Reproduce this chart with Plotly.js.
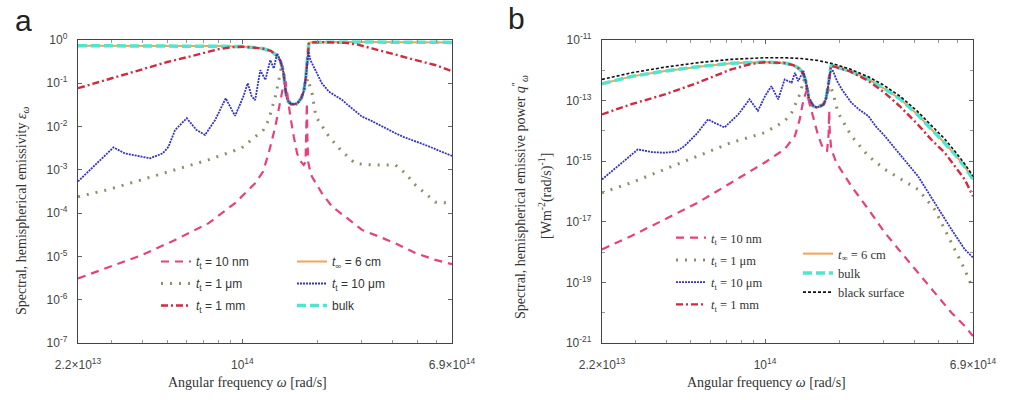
<!DOCTYPE html>
<html>
<head>
<meta charset="utf-8">
<script src="https://cdn.plot.ly/plotly-3.0.1.min.js"></script>
<style>html,body{margin:0;padding:0;background:#fff}#chart{width:1014px;height:400px}</style>
</head>
<body>
<div id="chart"></div>
<script>
// ---------------- Panel a : spectral hemispherical emissivity ----------------
const a_bulk_w = [2.2e13,3e13,5e13,8e13,1e14,1.2e14,1.3e14,1.37e14,1.42e14,1.46e14,1.48e14,1.5e14,1.53e14,1.57e14,1.62e14,1.67e14,1.72e14,1.76e14,1.79e14,1.81e14,1.825e14,1.835e14,1.845e14,1.86e14,2.2e14,3e14,4e14,5e14,6.9e14];
const a_bulk_e = [0.74,0.74,0.74,0.73,0.71,0.64,0.56,0.44,0.33,0.18,0.09,0.05,0.037,0.033,0.033,0.036,0.045,0.065,0.12,0.25,0.45,0.65,0.82,0.88,0.9,0.9,0.89,0.89,0.88];
const a_6cm_w = [2.2e13,3e13,5e13,8e13,1e14,1.2e14,1.3e14,1.37e14,1.42e14,1.46e14,1.48e14,1.5e14,1.53e14,1.57e14,1.62e14,1.67e14,1.72e14,1.76e14,1.79e14,1.81e14,1.825e14,1.835e14,1.845e14,1.86e14,2.2e14,3e14,4e14,5e14,6.9e14];
const a_6cm_e = [0.74,0.74,0.74,0.73,0.71,0.64,0.56,0.44,0.33,0.18,0.09,0.05,0.037,0.033,0.033,0.036,0.045,0.065,0.12,0.25,0.45,0.65,0.82,0.88,0.9,0.9,0.89,0.89,0.88];
const a_1mm_w = [2.2e13,3e13,4e13,5e13,6e13,7e13,8e13,9e13,1e14,1.2e14,1.3e14,1.37e14,1.42e14,1.46e14,1.48e14,1.5e14,1.53e14,1.57e14,1.62e14,1.67e14,1.72e14,1.76e14,1.79e14,1.81e14,1.825e14,1.835e14,1.845e14,1.86e14,2.2e14,2.6e14,2.9e14,3.3e14,4.1e14,4.8e14,5.9e14,6.9e14];
const a_1mm_e = [0.077,0.13,0.22,0.31,0.40,0.51,0.61,0.68,0.70,0.64,0.56,0.44,0.33,0.18,0.09,0.05,0.037,0.033,0.033,0.036,0.045,0.065,0.12,0.25,0.45,0.65,0.82,0.88,0.89,0.86,0.78,0.64,0.45,0.36,0.265,0.19];
const a_10um_w = [2.2e13,2.6e13,3.05e13,3.39e13,4.27e13,4.8e13,5.06e13,5.38e13,5.99e13,6.56e13,7.09e13,7.78e13,8.58e13,9.35e13,1.009e14,1.051e14,1.09e14,1.125e14,1.18e14,1.236e14,1.294e14,1.336e14,1.377e14,1.42e14,1.46e14,1.48e14,1.5e14,1.53e14,1.57e14,1.62e14,1.67e14,1.72e14,1.76e14,1.79e14,1.81e14,1.825e14,1.84e14,1.87e14,1.96e14,2.08e14,2.22e14,2.3e14,2.4e14,2.51e14,2.62e14,2.75e14,2.88e14,3.01e14,3.25e14,3.51e14,3.8e14,4.1e14,4.4e14,4.77e14,5.2e14,5.57e14,6.1e14,6.7e14,6.9e14];
const a_10um_e = [5.4e-4,1.4e-3,3.3e-3,2.4e-3,1.85e-3,2.4e-3,3.4e-3,8.3e-3,0.0156,8.3e-3,6.4e-3,0.0141,0.045,0.0176,0.049,0.1,0.05,0.041,0.2,0.12,0.345,0.22,0.49,0.33,0.18,0.09,0.05,0.037,0.033,0.033,0.036,0.045,0.065,0.12,0.25,0.42,0.54,0.35,0.2,0.1,0.064,0.056,0.05,0.041,0.033,0.026,0.021,0.017,0.014,0.011,0.0085,0.007,0.0058,0.0049,0.0042,0.0035,0.0028,0.0022,0.0021];
const a_1um_w = [2.2e13,2.91e13,3.95e13,5.38e13,7.31e13,9.94e13,1.213e14,1.274e14,1.355e14,1.4e14,1.44e14,1.47e14,1.5e14,1.55e14,1.62e14,1.7e14,1.76e14,1.8e14,1.83e14,1.86e14,1.9e14,1.97e14,2.22e14,2.47e14,2.83e14,3.3e14,4.1e14,4.49e14,4.92e14,5.92e14,6.59e14,6.9e14];
const a_1um_e = [2.4e-4,3.5e-4,5.9e-4,1e-3,1.7e-3,3.2e-3,8.3e-3,0.0141,0.049,0.12,0.28,0.15,0.06,0.035,0.03,0.04,0.06,0.1,0.13,0.09,0.059,0.017,5.9e-3,2.9e-3,1.4e-3,1.3e-3,1.3e-3,8.3e-4,4.5e-4,1.8e-4,1.7e-4,1.7e-4];
const a_10nm_w = [2.2e13,3.09e13,3.95e13,5.38e13,7.31e13,9.35e13,1.125e14,1.21e14,1.274e14,1.355e14,1.415e14,1.46e14,1.49e14,1.52e14,1.556e14,1.606e14,1.656e14,1.707e14,1.76e14,1.79e14,1.805e14,1.812e14,1.82e14,1.835e14,1.87e14,1.9e14,2.08e14,2.29e14,2.58e14,3.01e14,3.51e14,4.1e14,4.92e14,5.92e14,6.7e14,6.9e14];
const a_10nm_e = [3.1e-6,6.3e-6,1.07e-5,2.4e-5,5.8e-5,1.7e-4,4.9e-4,9.1e-4,2.4e-3,0.01,0.034,0.09,0.11,0.045,0.017,5.9e-3,2.4e-3,1.6e-3,1.3e-3,1.5e-3,6e-3,0.035,6e-3,1.5e-3,9e-4,6.9e-4,2.9e-4,1.4e-4,8.3e-5,4.1e-5,2.9e-5,2.0e-5,1.2e-5,8.3e-6,6.9e-6,6.6e-6];

// ---------------- Panel b : spectral hemispherical emissive power ----------------
const b_black_w = [2.2e13,2.9e13,3.9e13,5.4e13,7.3e13,1.0e14,1.2e14,1.4e14,1.64e14,1.9e14,2.2e14,2.6e14,3.0e14,3.5e14,4.1e14,4.7e14,5.3e14,5.9e14,6.4e14,6.9e14];
const b_black_q = [5.0e-13,8.3e-13,1.25e-12,1.8e-12,2.3e-12,2.6e-12,2.6e-12,2.45e-12,2.1e-12,1.6e-12,1.1e-12,6.2e-13,3.3e-13,1.4e-13,4.6e-14,1.5e-14,5.5e-15,1.9e-15,8e-16,3.2e-16];
const b_bulk_w = [2.2e13,2.9e13,3.9e13,5.4e13,7.3e13,1.0e14,1.2e14,1.3e14,1.37e14,1.42e14,1.46e14,1.48e14,1.5e14,1.53e14,1.57e14,1.62e14,1.67e14,1.72e14,1.76e14,1.79e14,1.81e14,1.825e14,1.835e14,1.845e14,1.86e14,1.9e14,2.2e14,2.6e14,3.0e14,3.5e14,4.1e14,4.7e14,5.3e14,5.9e14,6.4e14,6.9e14];
const b_bulk_q = [3.6e-13,6.3e-13,9.3e-13,1.32e-12,1.7e-12,1.87e-12,1.75e-12,1.5e-12,1.15e-12,8.5e-13,4.5e-13,2.3e-13,1.3e-13,9e-14,6.5e-14,6e-14,6.5e-14,7.5e-14,1.1e-13,2.2e-13,4.5e-13,8e-13,1.15e-12,1.4e-12,1.45e-12,1.35e-12,9.5e-13,5.2e-13,2.6e-13,1.15e-13,3.6e-14,1.15e-14,4.0e-15,1.5e-15,6.5e-16,2.5e-16];
const b_6cm_w = [2.2e13,2.9e13,3.9e13,5.4e13,7.3e13,1.0e14,1.2e14,1.3e14,1.37e14,1.42e14,1.46e14,1.48e14,1.5e14,1.53e14,1.57e14,1.62e14,1.67e14,1.72e14,1.76e14,1.79e14,1.81e14,1.825e14,1.835e14,1.845e14,1.86e14,1.9e14,2.2e14,2.6e14,3.0e14,3.5e14,4.1e14,4.7e14,5.3e14,5.9e14,6.4e14,6.9e14];
const b_6cm_q = [3.6e-13,6.3e-13,9.3e-13,1.32e-12,1.7e-12,1.87e-12,1.75e-12,1.5e-12,1.15e-12,8.5e-13,4.5e-13,2.3e-13,1.3e-13,9e-14,6.5e-14,6e-14,6.5e-14,7.5e-14,1.1e-13,2.2e-13,4.5e-13,8e-13,1.15e-12,1.4e-12,1.45e-12,1.35e-12,9.5e-13,5.2e-13,2.6e-13,1.15e-13,3.6e-14,1.15e-14,4.0e-15,1.5e-15,6.5e-16,2.5e-16];
const b_1mm_w = [2.2e13,2.89e13,3.94e13,5.36e13,7.3e13,8.7e13,9.4e13,1.0e14,1.2e14,1.3e14,1.37e14,1.42e14,1.46e14,1.48e14,1.5e14,1.53e14,1.57e14,1.62e14,1.67e14,1.72e14,1.76e14,1.79e14,1.81e14,1.825e14,1.835e14,1.845e14,1.86e14,1.9e14,2.2e14,2.6e14,3.04e14,3.5e14,4.14e14,4.7e14,5.31e14,5.9e14,6.39e14,6.9e14];
const b_1mm_q = [3.5e-14,7.6e-14,1.6e-13,3.9e-13,1.07e-12,1.58e-12,1.75e-12,1.85e-12,1.73e-12,1.48e-12,1.13e-12,8.4e-13,4.4e-13,2.25e-13,1.28e-13,8.8e-14,6.4e-14,5.9e-14,6.4e-14,7.4e-14,1.08e-13,2.15e-13,4.4e-13,7.9e-13,1.13e-12,1.38e-12,1.43e-12,1.33e-12,9.2e-13,4.6e-13,1.8e-13,6.5e-14,1.6e-14,5.0e-15,1.9e-15,6.0e-16,2.5e-16,7e-17];
const b_10um_w = [2.2e13,2.6e13,3.07e13,3.5e13,3.94e13,4.4e13,4.74e13,5.3e13,5.89e13,6.3e13,6.86e13,7.8e13,8.66e13,9.36e13,1.0e14,1.06e14,1.13e14,1.2e14,1.28e14,1.32e14,1.36e14,1.43e14,1.46e14,1.48e14,1.5e14,1.53e14,1.57e14,1.62e14,1.67e14,1.72e14,1.76e14,1.79e14,1.81e14,1.825e14,1.845e14,1.88e14,1.95e14,2.04e14,2.23e14,2.4e14,2.61e14,2.8e14,3.04e14,3.3e14,3.55e14,3.85e14,4.14e14,4.83e14,5.2e14,5.65e14,6.39e14,6.9e14];
const b_10um_q = [2.5e-16,8e-16,2.45e-15,2.0e-15,1.9e-15,2.1e-15,3.2e-15,8e-15,2.4e-14,1.8e-14,1.3e-14,3.5e-14,1.1e-13,4.6e-14,1.4e-13,3.0e-13,1.1e-13,5e-13,3.9e-13,8.3e-13,4.4e-13,9.5e-13,4.5e-13,2.3e-13,1.3e-13,9e-14,6.5e-14,6e-14,6.5e-14,7.5e-14,1.1e-13,2.2e-13,4.5e-13,7.5e-13,9.5e-13,9.5e-13,4.5e-13,2.35e-13,8.5e-14,5e-14,3.1e-14,1.4e-14,6.8e-15,3.0e-15,1.48e-15,7e-16,3.2e-16,4.3e-17,1.6e-17,5.6e-18,1.23e-18,6.6e-19];
const b_1um_w = [2.2e13,2.89e13,3.94e13,5.36e13,7.3e13,9.95e13,1.2e14,1.28e14,1.39e14,1.43e14,1.46e14,1.48e14,1.5e14,1.55e14,1.62e14,1.7e14,1.76e14,1.8e14,1.83e14,1.88e14,1.97e14,2.23e14,2.61e14,3.04e14,3.55e14,4.14e14,4.83e14,5.65e14,6.39e14,6.9e14];
const b_1um_q = [9.1e-17,1.95e-16,5.4e-16,1.48e-15,4.1e-15,8.7e-15,2.1e-14,4e-14,1.8e-13,5e-13,3.5e-13,1.8e-13,1.0e-13,7e-14,6e-14,7e-14,1.2e-13,2.2e-13,3e-13,1.8e-13,4e-14,6.8e-15,1.48e-15,5.4e-16,2.5e-16,1.17e-16,2.6e-17,2.0e-18,2.7e-19,5.9e-20];
const b_10nm_w = [2.2e13,2.89e13,3.94e13,5.36e13,7.3e13,9.95e13,1.2e14,1.32e14,1.38e14,1.43e14,1.47e14,1.5e14,1.56e14,1.64e14,1.72e14,1.78e14,1.805e14,1.815e14,1.825e14,1.85e14,1.94e14,2.23e14,2.61e14,3.04e14,3.55e14,4.14e14,4.83e14,5.65e14,6.39e14,6.9e14];
const b_10nm_q = [1.23e-18,3.4e-18,1.2e-17,4.3e-17,1.95e-16,8.9e-16,2.5e-15,6.8e-15,2.4e-14,1.1e-13,2.1e-13,1.0e-13,3.1e-14,6.8e-15,2.45e-15,2.2e-15,8e-15,4.6e-14,8e-15,2.5e-15,8.9e-16,1.5e-16,2.6e-17,4.4e-18,9.5e-19,2.1e-19,4.6e-20,1e-20,3.6e-21,1.7e-21];

// ---------------- Ticks ----------------
const xTickVals = [2.2e13, 1e14, 6.9e14];
const xTickText = ['2.2×10<sup>13</sup>', '10<sup>14</sup>', '6.9×10<sup>14</sup>'];
const xMinorVals = [3e13,4e13,5e13,6e13,7e13,8e13,9e13,2e14,3e14,4e14,5e14,6e14];
const aYTickVals = [1e-7,1e-6,1e-5,1e-4,1e-3,1e-2,1e-1,1];
const aYTickText = ['10<sup>-7</sup>','10<sup>-6</sup>','10<sup>-5</sup>','10<sup>-4</sup>','10<sup>-3</sup>','10<sup>-2</sup>','10<sup>-1</sup>','10<sup>0</sup>'];
const bYTickVals = [1e-21,1e-19,1e-17,1e-15,1e-13,1e-11];
const bYTickText = ['10<sup>-21</sup>','10<sup>-19</sup>','10<sup>-17</sup>','10<sup>-15</sup>','10<sup>-13</sup>','10<sup>-11</sup>'];
const bYMinorVals = [1e-20,1e-18,1e-16,1e-14,1e-12];

// ---------------- Styles ----------------
const C = {nm10:'#e8407f', um1:'#938c68', mm1:'#d4283e', cm6:'#f2a452', um10:'#3434c4', bulk:'#4fe6cf', black:'#111111'};
const S = {
  nm10:{color:C.nm10,width:2.2,dash:'8px,6px'},
  um1:{color:C.um1,width:3,dash:'2px,7px'},
  mm1:{color:C.mm1,width:2.4,dash:'7px,3px,2px,3px'},
  cm6:{color:C.cm6,width:2},
  um10:{color:C.um10,width:1.8,dash:'2px,1px'},
  bulk:{color:C.bulk,width:3.5,dash:'9px,4px'},
  black:{color:C.black,width:1.6,dash:'3px,2px'}
};
const tt = '<i>t</i><sub>t</sub>';
function tr(x,y,name,style,xa,ya,leg,rank){
  return {x:x,y:y,name:name,type:'scatter',mode:'lines',line:style,xaxis:xa,yaxis:ya,legend:leg,legendrank:rank,legendgroup:name+xa,hoverinfo:'skip'};
}
const data = [
  tr(a_6cm_w,a_6cm_e,'<i>t</i><sub>∞</sub> = 6 cm',S.cm6,'x','y','legend2',1),
  tr(a_bulk_w,a_bulk_e,'bulk',S.bulk,'x','y','legend2',3),
  tr(a_1mm_w,a_1mm_e,tt+' = 1 mm',S.mm1,'x','y','legend',3),
  tr(a_1um_w,a_1um_e,tt+' = 1 μm',S.um1,'x','y','legend',2),
  tr(a_10um_w,a_10um_e,tt+' = 10 μm',S.um10,'x','y','legend2',2),
  tr(a_10nm_w,a_10nm_e,tt+' = 10 nm',S.nm10,'x','y','legend',1),

  tr(b_6cm_w,b_6cm_q,'<i>t</i><sub>∞</sub> = 6 cm',S.cm6,'x2','y2','legend4',1),
  tr(b_bulk_w,b_bulk_q,'bulk',S.bulk,'x2','y2','legend4',2),
  tr(b_1mm_w,b_1mm_q,tt+' = 1 mm',S.mm1,'x2','y2','legend3',4),
  tr(b_1um_w,b_1um_q,tt+' = 1 μm',S.um1,'x2','y2','legend3',2),
  tr(b_10um_w,b_10um_q,tt+' = 10 μm',S.um10,'x2','y2','legend3',3),
  tr(b_10nm_w,b_10nm_q,tt+' = 10 nm',S.nm10,'x2','y2','legend3',1),
  tr(b_black_w,b_black_q,'black surface',S.black,'x2','y2','legend4',3)
];

const W = 1014, H = 400;
const px = v => v / W, py = v => (H - v) / H;
const tickFont = {family:'Liberation Sans, Arial, sans-serif', size:12, color:'#444'};
function xAxis(l, r, anchor){
  return {type:'log', range:[Math.log10(2.2e13), Math.log10(6.9e14)], domain:[px(l), px(r)], anchor:anchor,
    tickmode:'array', tickvals:xTickVals, ticktext:xTickText, ticks:'inside', ticklen:4, tickcolor:'#666',
    showline:true, linecolor:'#444', linewidth:1.2, mirror:'ticks', showgrid:false, zeroline:false,
    tickfont:tickFont, ticklabelstandoff:10,
    minor:{tickmode:'array', tickvals:xMinorVals, ticks:'inside', ticklen:3, tickcolor:'#999', showgrid:false}};
}
function yAxis(range, tv, tx, mv, anchor){
  const ax = {type:'log', range:range, domain:[py(343), py(40)], anchor:anchor,
    tickmode:'array', tickvals:tv, ticktext:tx, ticks:'inside', ticklen:4, tickcolor:'#666',
    showline:true, linecolor:'#444', linewidth:1.2, mirror:'ticks', showgrid:false, zeroline:false,
    tickfont:tickFont, ticklabelstandoff:7};
  if (mv) ax.minor = {tickmode:'array', tickvals:mv, ticks:'inside', ticklen:3, tickcolor:'#999', showgrid:false};
  return ax;
}
const legA = {family:'Liberation Sans, Arial, sans-serif', size:12, color:'#333'};
const legB = {family:'Liberation Serif, Times New Roman, serif', size:12.5, color:'#333'};
function leg(x, y, font, gap){
  return {x:px(x), y:py(y), xanchor:'left', yanchor:'top', bgcolor:'rgba(0,0,0,0)', borderwidth:0,
    font:font, traceorder:'grouped', tracegroupgap:gap, itemwidth:30};
}
const titleFont = {family:'Liberation Serif, Times New Roman, serif', size:14, color:'#333'};
function ann(text, x, y, font, angle){
  const a = {text:text, x:px(x), y:py(y), xref:'paper', yref:'paper', xanchor:'center', yanchor:'middle', showarrow:false, font:font};
  if (angle !== undefined) a.textangle = angle;
  return a;
}
const letterFont = {family:'Liberation Sans, Arial, sans-serif', size:30, color:'#222'};
const layout = {
  width:W, height:H, margin:{l:0,r:0,t:0,b:0}, paper_bgcolor:'#fff', plot_bgcolor:'#fff', showlegend:true,
  xaxis: xAxis(78, 452, 'y'),
  yaxis: yAxis([-7, 0], aYTickVals, aYTickText, null, 'x'),
  xaxis2: xAxis(602, 973, 'y2'),
  yaxis2: yAxis([-21, -11], bYTickVals, bYTickText, bYMinorVals, 'x2'),
  legend: leg(156, 247, legA, 3),
  legend2: leg(292, 247, legA, 3),
  legend3: leg(671, 223, legB, 3),
  legend4: leg(798, 239, legB, 0),
  annotations: [
    ann('a', 23, 20, letterFont),
    ann('b', 516, 19, letterFont),
    ann('Angular frequency <i>ω</i> [rad/s]', 247, 382, titleFont),
    ann('Angular frequency <i>ω</i> [rad/s]', 766, 382, titleFont),
    ann('Spectral, hemispherical emissivity <i>ε</i><sub><i>ω</i></sub>', 22, 211, titleFont, -90),
    ann('Spectral, hemispherical emissive power <i>q</i><sup>\u2033</sup><sub><i>ω</i></sub>', 520, 197, titleFont, -90),
    ann('[Wm<sup>-2</sup>(rad/s)<sup>-1</sup>]', 545, 196, titleFont, -90)
  ]
};
Plotly.newPlot('chart', data, layout, {displayModeBar:false, staticPlot:true});
</script>
</body>
</html>
